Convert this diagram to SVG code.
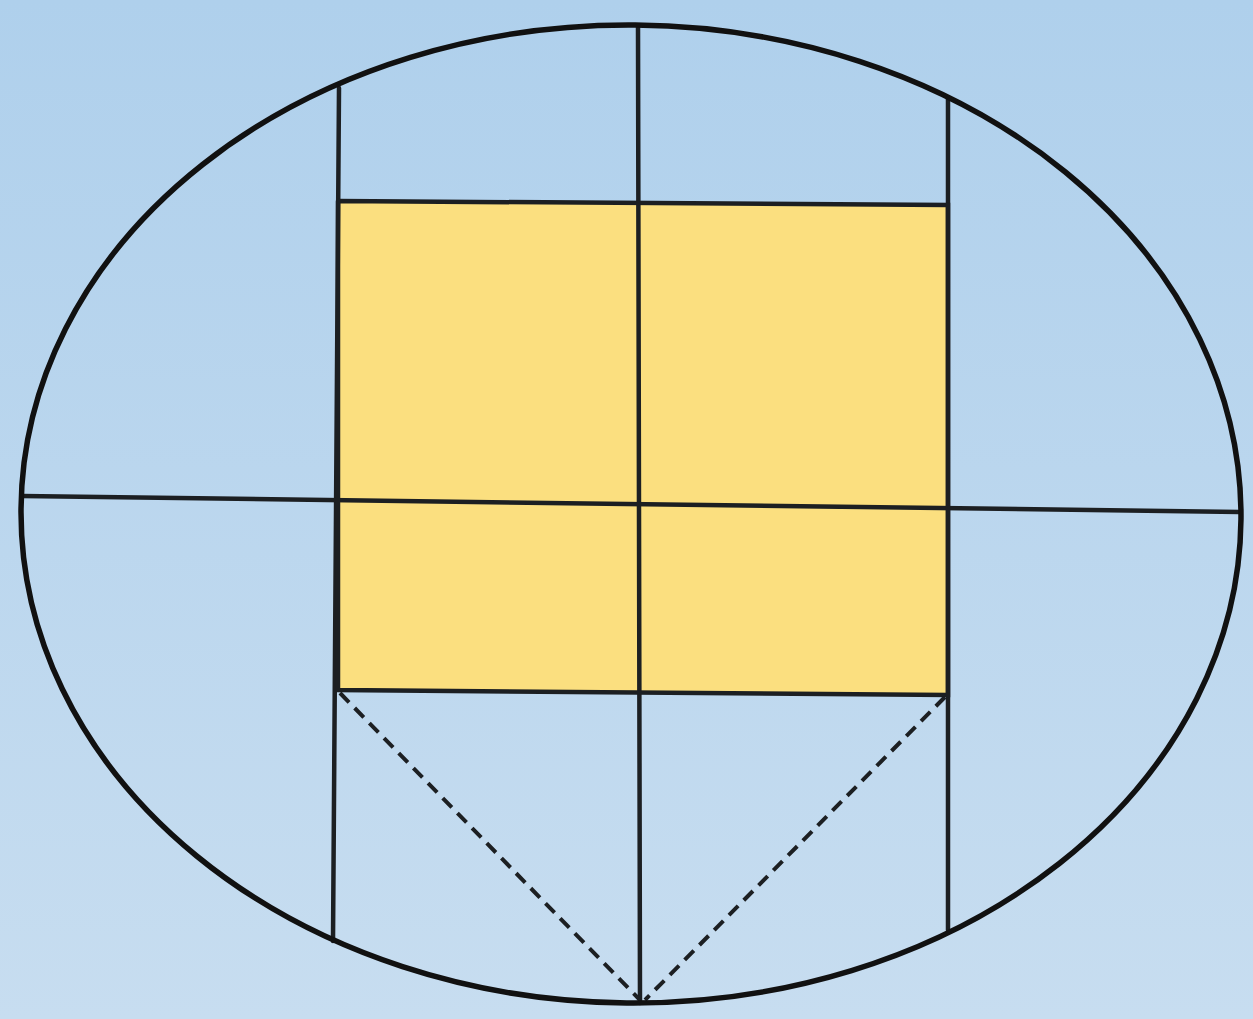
<svg xmlns="http://www.w3.org/2000/svg" width="1253" height="1019" viewBox="0 0 1253 1019">
<defs>
<linearGradient id="bg" x1="0" y1="0" x2="0" y2="1">
<stop offset="0" stop-color="#afd0ec"/>
<stop offset="1" stop-color="#c7ddf0"/>
</linearGradient>
<style>
.ln{stroke:#1c1f22;stroke-width:4.5;fill:none;stroke-linecap:round}
.dash{stroke:#1c1f22;stroke-width:4;fill:none;stroke-dasharray:13 8}
</style>
</defs>
<rect width="1253" height="1019" fill="url(#bg)"/>
<g id="square">
<polygon points="338,201 948,205 948,695 338,690" fill="#fbdf7f"/>
</g>
<g id="lines">
<line class="ln" x1="339" y1="88" x2="333" y2="941"/>
<line class="ln" x1="948" y1="99" x2="948" y2="930"/>
<line class="ln" x1="638" y1="26" x2="640" y2="1003"/>
<line class="ln" x1="22" y1="496" x2="1240" y2="512"/>
<polyline class="ln" points="338,201 948,205 948,695 338,690 338,201"/>
<line class="dash" x1="340" y1="693" x2="640" y2="1000"/>
<line class="dash" x1="945" y1="697" x2="645" y2="1000"/>
</g>
<g id="ellipse">
<ellipse cx="631" cy="514" rx="610" ry="489" fill="none" stroke="#111" stroke-width="5.5" transform="rotate(0.5 631 514)"/>
</g>
</svg>
